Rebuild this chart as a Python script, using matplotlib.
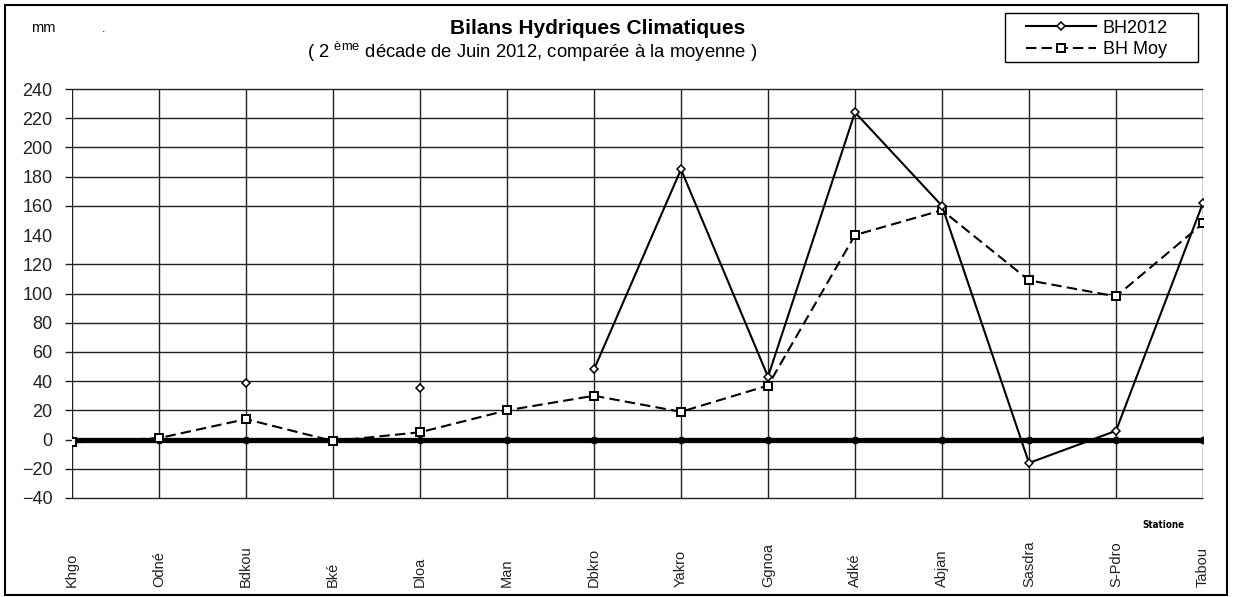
import numpy as np
import matplotlib
matplotlib.use('Agg')
import matplotlib.pyplot as plt
import matplotlib.transforms as mtransforms
from matplotlib.patches import Rectangle

plt.rcParams['font.family'] = ['Liberation Sans', 'DejaVu Sans']

stations = ['Khgo', 'Odné', 'Bdkou', 'Bké', 'Dloa', 'Man', 'Dbkro',
            'Yakro', 'Ggnoa', 'Adké', 'Abjan', 'Sasdra', 'S-Pdro', 'Tabou']
bh2012 = [np.nan, np.nan, 39, np.nan, 35, np.nan, 48,
          185, 43, 224, 160, -16, 6, 162]
bh_moy = [-2, 1, 14, -1, 5, 20, 30,
          19, 37, 140, 157, 109, 98, 148]
zero_ref = [0] * len(stations)
yticks = list(range(-40, 241, 20))
# the original chart has no grid line at 140
grid_levels = [v for v in yticks if v != 140]

W, H = 1234, 597
x = np.arange(len(stations))

fig = plt.figure(figsize=(W / 100, H / 100), dpi=100)
# plot area: x 72..1203 px, y 89..498 px
ax = fig.add_axes([72 / W, 1 - 498 / H, (1203 - 72) / W, (498 - 89) / H])

# page frame
fig.patches.append(Rectangle((5 / W, 2 / H), (1227 - 5) / W, (595 - 5) / H,
                             transform=fig.transFigure, fill=False,
                             edgecolor='black', linewidth=1.5))

ax.plot(x, zero_ref, color='black', linewidth=3.8, marker='o', markersize=4.5,
        markerfacecolor='black', zorder=3)
l_moy, = ax.plot(x, bh_moy, color='black', linewidth=1.5, linestyle=(0, (5, 2.5)),
                 marker='s', markersize=6, markerfacecolor='white',
                 markeredgecolor='black', markeredgewidth=1.4, label='BH Moy', zorder=4)
l_bh, = ax.plot(x, bh2012, color='black', linewidth=1.5, marker='D', markersize=4.5,
                markerfacecolor='white', markeredgecolor='black', markeredgewidth=1.1,
                label='BH2012', zorder=5)

ax.set_xlim(0, len(stations) - 1)
ax.set_ylim(-40, 240)
ax.set_yticks(yticks)
ax.set_xticks(x)
ax.set_xticklabels([])
ax.tick_params(axis='x', length=0)
ax.tick_params(axis='y', length=0, labelsize=13, labelcolor='#222222', pad=14)

# grid: vertical at each station, horizontal at grid_levels with a short outer tick
ax.grid(True, axis='x', color='#222222', linewidth=1.0)
ax.hlines(grid_levels, -0.08, len(stations) - 1, color='#222222', linewidth=1.0,
          zorder=1, clip_on=False)
ax.set_axisbelow(True)
for s in ax.spines.values():
    s.set_visible(False)

# station names, rotated and anchored at the bottom
trans = mtransforms.blended_transform_factory(ax.transData, fig.transFigure)
for xi, name in zip(x, stations):
    ax.text(xi, 1 - 587 / H, name, rotation=90, ha='center', va='bottom',
            fontsize=10.5, color='#222222', transform=trans, clip_on=False)

fig.text(1163 / W, 1 - 525 / H, 'Statione', fontsize=7, fontweight='bold',
         family='DejaVu Sans', stretch='condensed', ha='center', va='center')

fig.text(598 / W, 1 - 29 / H, 'Bilans Hydriques Climatiques', fontsize=15,
         fontweight='bold', ha='center', va='center')
fig.text(307 / W, 1 - 52 / H,
         '( 2 $^{\\mathregular{ème}}$ décade de Juin 2012, comparée à la moyenne )',
         fontsize=13.3, ha='left', va='center')
fig.text(43 / W, 1 - 28 / H, 'mm', fontsize=10.5, ha='center', va='center')
fig.text(104 / W, 1 - 29 / H, '.', fontsize=9, ha='center', va='center')

# legend box drawn as its own rectangle
fig.patches.append(Rectangle((1005 / W, 1 - 62 / H), (1198 - 1005) / W, (62 - 13) / H,
                             transform=fig.transFigure, fill=False,
                             edgecolor='black', linewidth=1.0))
leg = fig.legend([l_bh, l_moy], ['BH2012', 'BH Moy'], loc='upper left',
                 bbox_to_anchor=(1024 / W, 1 - 18 / H), fontsize=13, handlelength=3.9,
                 handletextpad=0.35, numpoints=1, frameon=False,
                 borderpad=0.1, labelspacing=0.25, borderaxespad=0)

fig.savefig('out.png', dpi=100)
